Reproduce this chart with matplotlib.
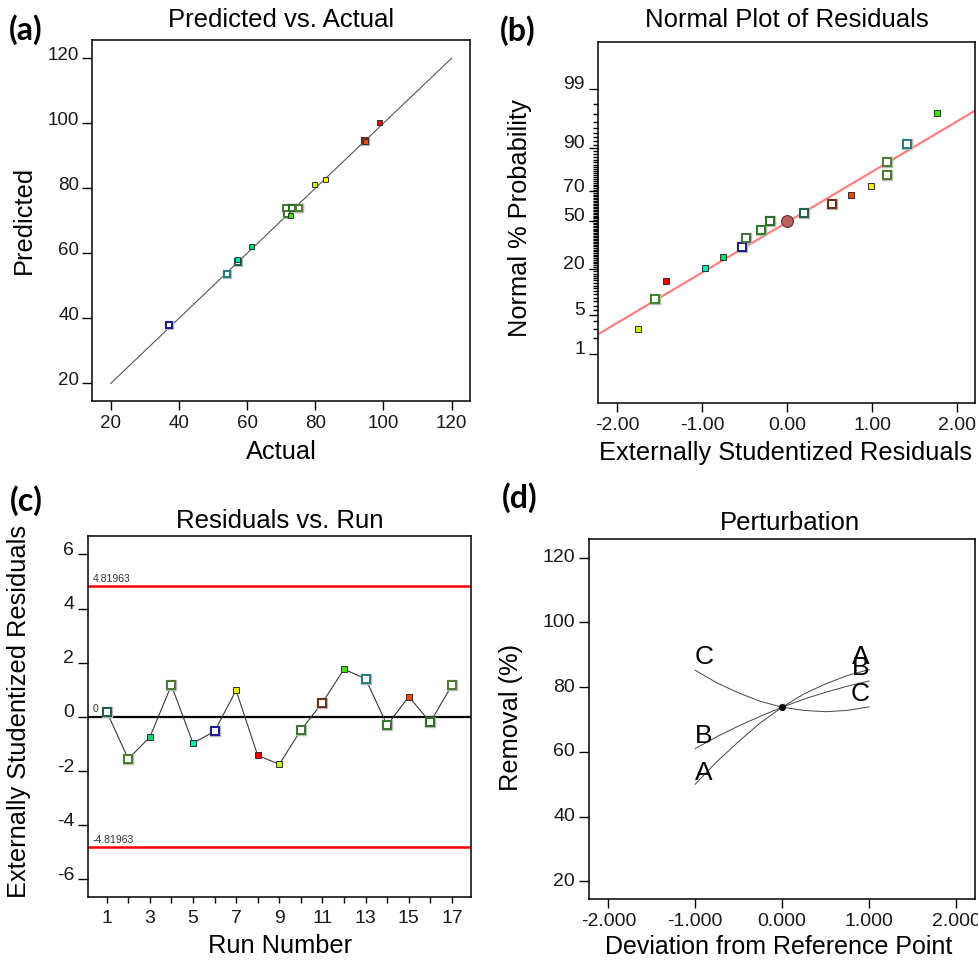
import numpy as np
import matplotlib
matplotlib.use('Agg')
import matplotlib.pyplot as plt
from matplotlib import transforms
from statistics import NormalDist

plt.rcParams['font.family'] = ['Liberation Sans', 'DejaVu Sans']
plt.rcParams['axes.unicode_minus'] = False

#%% data (one entry per run, runs 1..17)
runs = [1, 2, 3, 4, 5, 6, 7, 8, 9, 10, 11, 12, 13, 14, 15, 16, 17]
actual = [57.2, 71.3, 61.3, 75.3, 57.0, 37.1, 83.0, 98.8, 79.6, 71.6, 94.5, 72.6, 54.2, 73.1, 94.7, 73.1, 75.3]
predicted = [57.3, 73.9, 62.3, 73.9, 58.3, 38.0, 82.8, 100.4, 81.4, 72.1, 94.6, 71.9, 53.7, 73.9, 94.6, 73.9, 73.9]
residuals = [0.20, -1.55, -0.75, 1.17, -0.97, -0.53, 0.98, -1.42, -1.75, -0.49,
             0.53, 1.76, 1.41, -0.31, 0.75, -0.20, 1.17]
filled = [False, False, True, False, True, False, True, True, True, False,
          False, True, False, False, True, False, False]
colors = ['#1b5e4e', '#3f7f2a', '#00d96c', '#4d7a2c', '#00e8b5', '#1a1a90', '#f2f200',
          '#e80000', '#c9f200', '#3d7335', '#6b2d12', '#45e600', '#237c7c', '#2f7a28',
          '#f24a00', '#2b6b22', '#4f7d33']

diag = [20, 120]

# normal probability plot
normal_pct = [2.9, 8.8, 14.7, 20.6, 26.5, 32.4, 38.2, 44.1, 50.0, 55.9, 61.8, 67.6,
              73.5, 79.4, 85.3, 91.2, 97.1]
ref_line_x = [-2.22, 2.21]
ref_line_pct = [2.4, 97.4]
center_x, center_pct = 0.0, 50.0
prob_major = [1, 5, 20, 50, 70, 90, 99]

limit = 4.81963

# perturbation
pert_x = [-1, -0.75, -0.5, -0.25, 0, 0.25, 0.5, 0.75, 1]
pert_A = [50.0, 57.0, 63.2, 69.0, 73.8, 77.9, 81.0, 83.6, 85.4]
pert_B = [61.0, 64.7, 68.0, 71.0, 73.8, 76.3, 78.4, 80.3, 81.9]
pert_C = [85.2, 81.3, 78.2, 75.6, 73.8, 72.8, 72.4, 72.8, 73.9]

#%% helpers
W, H = 979, 961
fig = plt.figure(figsize=(W/100, H/100), dpi=100)

TITLE_FS = 18.5
LABEL_FS = 18.3
TICK_FS = 14
PANEL_FS = 23

def add_ax(l, t, r, b):
    return fig.add_axes([l/W, 1-b/H, (r-l)/W, (b-t)/H])

def ftext(x, y, s, **kw):
    fig.text(x/W, 1-y/H, s, ha='center', va='center', **kw)

def style(ax, yshift):
    for sp in ax.spines.values():
        sp.set_linewidth(1.1)
    ax.tick_params(which='both', top=False, right=False, direction='out',
                   width=1, labelcolor='#1a1a1a')
    #move the y tick labels a bit up, like the original software does
    off = transforms.ScaledTranslation(0, yshift/72, fig.dpi_scale_trans)
    for tk in ax.yaxis.get_major_ticks():
        tk.label1.set_transform(tk.label1.get_transform() + off)

def draw_points(ax, x, y, cols, fill, ms_open, ms_fill):
    for i in range(len(x)):
        if fill[i]:
            ax.plot(x[i], y[i], 's', ms=ms_fill, mfc=cols[i], mec='#303030', mew=0.7, zorder=5)
        else:
            ax.plot(x[i], y[i], 's', ms=ms_open+1.3, mfc='none', mec='#b8b8b8', mew=1.0, zorder=3)
            ax.plot(x[i], y[i], 's', ms=ms_open, mfc='white', mec=cols[i], mew=1.4, zorder=4)

nd = NormalDist()
def probit(p):
    p = np.clip(np.asarray(p, dtype=float)/100, 1e-7, 1-1e-7)
    return np.array([nd.inv_cdf(v) for v in p.ravel()]).reshape(p.shape)
def inv_probit(z):
    z = np.asarray(z, dtype=float)
    return np.array([nd.cdf(v) for v in z.ravel()]).reshape(z.shape)*100

panel_kw = dict(fontsize=PANEL_FS, fontweight='bold', family=['Lato', 'DejaVu Sans'])

#%% (a) Predicted vs. Actual
ax = add_ax(92.3, 40, 470, 401)
ax.plot(diag, diag, color='#555555', lw=0.8, zorder=1)
draw_points(ax, actual, predicted, colors, filled, 4.6, 3.6)
ax.set_xlim(14.6, 125.4)
ax.set_ylim(14.6, 125.6)
ax.set_xticks([20, 40, 60, 80, 100, 120])
ax.set_yticks([20, 40, 60, 80, 100, 120])
ax.tick_params(axis='both', labelsize=13.5)
ax.tick_params(axis='y', length=7.5, pad=2)
ax.tick_params(axis='x', length=6.5, pad=3.5)
style(ax, 3.6)
ftext(281, 20, 'Predicted vs. Actual', fontsize=TITLE_FS)
ftext(281, 452, 'Actual', fontsize=LABEL_FS)
ftext(24, 220, 'Predicted', fontsize=LABEL_FS, rotation=90)
ftext(26, 30, '(a)', **panel_kw)

#%% (b) Normal plot of residuals
ax = add_ax(598.3, 41.7, 975.3, 403.3)
ax.set_yscale('function', functions=(probit, inv_probit))
order = np.argsort(residuals, kind='stable')
res_sorted = [residuals[i] for i in order]
cols_sorted = [colors[i] for i in order]
fill_sorted = [filled[i] for i in order]
ax.plot(ref_line_x, ref_line_pct, color='#ff8080', lw=1.6, zorder=2)
draw_points(ax, res_sorted, normal_pct, cols_sorted, fill_sorted, 5.2, 4.0)
ax.plot(center_x, center_pct, 'o', ms=8.5, mfc='#bf6060', mec='#5a3030', mew=0.8, zorder=6)
ax.set_xlim(-2.22, 2.21)
ax.set_ylim(float(inv_probit(-3.19)), float(inv_probit(3.15)))
ax.set_xticks([-2, -1, 0, 1, 2])
ax.set_xticklabels(['-2.00', '-1.00', '0.00', '1.00', '2.00'])
ax.set_yticks(prob_major)
ax.set_yticklabels([str(v) for v in prob_major])
ax.set_yticks([v for v in range(1, 100) if v not in prob_major], minor=True)
ax.yaxis.set_minor_formatter(plt.NullFormatter())
ax.tick_params(axis='both', labelsize=TICK_FS)
ax.tick_params(axis='y', which='major', length=6.5, pad=3)
ax.tick_params(axis='y', which='minor', length=3.6, width=0.8)
ax.tick_params(axis='x', length=6.5, pad=3.5)
style(ax, 4.6)
ftext(787, 20, 'Normal Plot of Residuals', fontsize=TITLE_FS)
ftext(786, 453, 'Externally Studentized Residuals', fontsize=LABEL_FS)
ftext(520, 218, 'Normal % Probability', fontsize=LABEL_FS, rotation=90)
ftext(518, 31, '(b)', **panel_kw)

#%% (c) Residuals vs. Run
ax = add_ax(88.3, 536, 471.3, 897.3)
ax.axhline(limit, color='#ff0000', lw=1.8, zorder=1)
ax.axhline(-limit, color='#ff0000', lw=1.8, zorder=1)
ax.axhline(0, color='black', lw=1.6, zorder=1)
ax.plot(runs, residuals, '-', color='#3a3a3a', lw=0.8, zorder=2)
draw_points(ax, runs, residuals, colors, filled, 5.2, 3.8)
for val, lab in [(limit, '4.81963'), (0, '0'), (-limit, '-4.81963')]:
    ax.annotate(lab, xy=(0, val), xycoords=('axes fraction', 'data'), xytext=(3, 2),
                textcoords='offset points', va='bottom', ha='left', fontsize=7.5,
                color='#333333')
ax.set_xlim(0.15, 17.9)
ax.set_ylim(-6.66, 6.68)
ax.set_xticks([1, 3, 5, 7, 9, 11, 13, 15, 17])
ax.set_xticks([2, 4, 6, 8, 10, 12, 14, 16], minor=True)
ax.set_yticks([-6, -4, -2, 0, 2, 4, 6])
ax.tick_params(axis='x', which='both', length=4.3, pad=5, labelsize=TICK_FS)
ax.tick_params(axis='y', length=7.2, pad=3, labelsize=TICK_FS)
style(ax, 4.3)
ftext(280, 521, 'Residuals vs. Run', fontsize=TITLE_FS)
ftext(280, 946, 'Run Number', fontsize=LABEL_FS)
ftext(19, 712, 'Externally Studentized Residuals', fontsize=LABEL_FS, rotation=90)
ftext(26, 501, '(c)', **panel_kw)

#%% (d) Perturbation
ax = add_ax(588.7, 539.3, 975.3, 899)
for yv in [pert_A, pert_B, pert_C]:
    ax.plot(pert_x, yv, color='#444444', lw=0.7, zorder=2)
ax.plot(0, pert_A[4], 'o', ms=4.2, color='black', zorder=4)
lab_kw = dict(fontsize=19, ha='center', va='center', color='black')
ax.text(-0.9, 89.4, 'C', **lab_kw)
ax.text(-0.9, 65.0, 'B', **lab_kw)
ax.text(-0.9, 53.6, 'A', **lab_kw)
ax.text(0.9, 89.4, 'A', **lab_kw)
ax.text(0.9, 85.8, 'B', **lab_kw)
ax.text(0.9, 77.9, 'C', **lab_kw)
ax.set_xlim(-2.226, 2.222)
ax.set_ylim(14.5, 125.7)
ax.set_xticks([-2, -1, 0, 1, 2])
ax.set_xticklabels(['-2.000', '-1.000', '0.000', '1.000', '2.000'])
ax.set_yticks([20, 40, 60, 80, 100, 120])
ax.tick_params(axis='x', length=6.7, pad=3.5, labelsize=TICK_FS)
ax.tick_params(axis='y', length=7.4, pad=2.5, labelsize=TICK_FS)
style(ax, 1.5)
ftext(790, 523, 'Perturbation', fontsize=TITLE_FS)
ftext(779, 947, 'Deviation from Reference Point', fontsize=18)
ftext(511, 717, 'Removal (%)', fontsize=LABEL_FS, rotation=90)
ftext(520, 498, '(d)', **panel_kw)

plt.savefig('out.png', dpi=100)
